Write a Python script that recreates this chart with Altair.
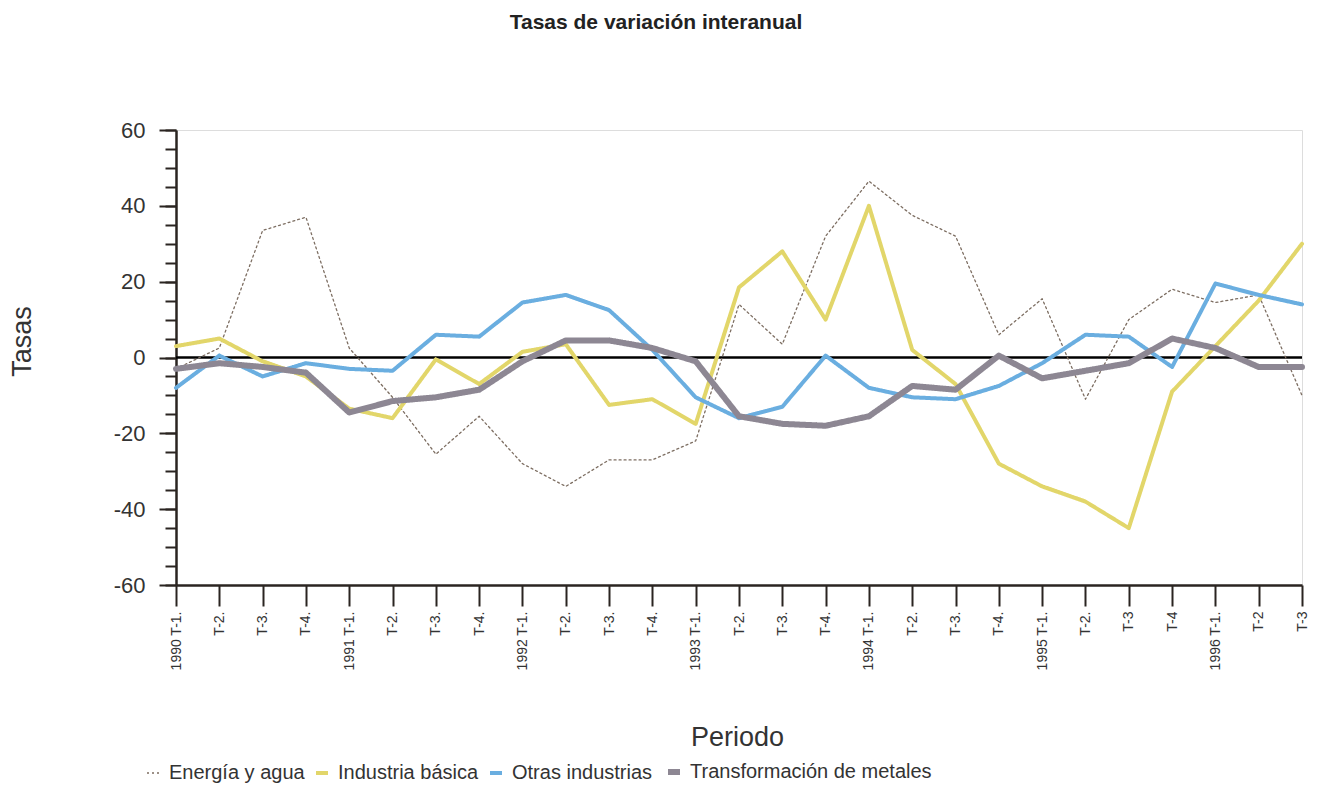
import altair as alt
import pandas as pd

# Period labels (27 quarters, 1990 T-1 .. 1996 T-3)
labels = ["1990 T-1.", "T-2.", "T-3.", "T-4.",
          "1991 T-1.", "T-2.", "T-3.", "T-4.",
          "1992 T-1.", "T-2.", "T-3.", "T-4.",
          "1993 T-1.", "T-2.", "T-3.", "T-4.",
          "1994 T-1.", "T-2.", "T-3.", "T-4.",
          "1995 T-1.", "T-2.", "T-3", "T-4",
          "1996 T-1.", "T-2", "T-3"]

series_names = ["Energía y agua", "Industria básica", "Otras industrias",
                "Transformación de metales"]

energia = [-3, 2.5, 33.5, 37, 2.5, -10.5, -25.5, -15.5, -28, -34, -27, -27, -22,
           14, 3.5, 32, 46.5, 37.5, 32, 6, 15.5, -11, 10, 18, 14.5, 16.5, -10]
industria = [3, 5, -1, -5, -13.5, -16, -0.5, -7, 1.5, 3.5, -12.5, -11, -17.5,
             18.5, 28, 10, 40, 2, -7, -28, -34, -38, -45, -9, 3, 15, 30]
otras = [-8, 0.5, -5, -1.5, -3, -3.5, 6, 5.5, 14.5, 16.5, 12.5, 2, -10.5,
         -16, -13, 0.5, -8, -10.5, -11, -7.5, -1.5, 6, 5.5, -2.5, 19.5, 16.5, 14]
transformacion = [-3, -1.5, -2.5, -4, -14.5, -11.5, -10.5, -8.5, -1, 4.5, 4.5, 2.5,
                  -1, -15.5, -17.5, -18, -15.5, -7.5, -8.5, 0.5, -5.5, -3.5, -1.5,
                  5, 2.5, -2.5, -2.5]

zero_value = [0]

colors = ["#7d6e62", "#e2d66a", "#6aaee0", "#8d8793"]
widths = [1.3, 4, 4, 6]
dashes = [[2, 3], [1, 0], [1, 0], [1, 0]]

rows = []
for name, vals in zip(series_names, [energia, industria, otras, transformacion]):
    for i, v in enumerate(vals):
        rows.append({"idx": i, "serie": name, "tasa": v})
df = pd.DataFrame(rows)
zero_df = pd.DataFrame({"tasa": zero_value})

label_expr = "[" + ",".join("'" + l + "'" for l in labels) + "][datum.value]"

FONT = "Liberation Sans"
AXC = "#2a2421"

legend = alt.Legend(
    orient="none", legendX=-33, legendY=632, direction="horizontal",
    title=None, symbolType="stroke", symbolSize=144, symbolStrokeWidth=3,
    labelFontSize=20, labelFont=FONT, labelColor="#333333", labelLimit=0,
    columnPadding=3, labelOffset=6, columns=4,
)

x = alt.X(
    "idx:Q",
    scale=alt.Scale(domain=[0, len(labels) - 1], nice=False, zero=False),
    axis=alt.Axis(
        values=list(range(len(labels))), labelExpr=label_expr, labelAngle=270,
        labelAlign="right", labelBaseline="middle", labelFontSize=14,
        labelFont=FONT, labelColor="#333333", labelPadding=5,
        tickSize=21, tickWidth=2, tickColor=AXC,
        domainColor=AXC, domainWidth=2.5, grid=False, labelOverlap=False,
        title="Periodo", titleFontSize=27, titleFont=FONT,
        titleFontWeight="normal", titleColor="#333333",
        titleX=561, titleY=152, titleAlign="center", titleBaseline="middle",
    ),
)

yscale = alt.Scale(domain=[-60, 60], nice=False)

# major ticks + labels
y = alt.Y(
    "tasa:Q",
    scale=yscale,
    axis=alt.Axis(
        orient="left",
        values=list(range(-60, 61, 20)),
        labelExpr="'' + datum.value",
        labelFontSize=22, labelFont=FONT, labelColor="#333333", labelPadding=14,
        tickSize=17, tickWidth=2, tickColor=AXC, domainColor=AXC, domainWidth=2.5,
        grid=False, labelOverlap=False,
        title="Tasas", titleFontSize=27, titleFont=FONT,
        titleFontWeight="normal", titleColor="#333333",
        titleAngle=270, titleX=-154, titleY=211,
        titleAlign="center", titleBaseline="middle",
    ),
)

# minor ticks every 5
y_minor = alt.Y(
    "tasa:Q",
    scale=yscale,
    axis=alt.Axis(
        orient="left", values=list(range(-60, 61, 5)), labels=False,
        tickSize=11, tickWidth=2, tickColor=AXC, domain=False, grid=False,
        title=None,
    ),
)

zero = alt.Chart(zero_df).mark_rule(color="black", strokeWidth=2.5).encode(
    y=y_minor
)

lines = alt.Chart(df).mark_line(strokeJoin="round", strokeCap="round").encode(
    x=x,
    y=y,
    color=alt.Color("serie:N", scale=alt.Scale(domain=series_names, range=colors),
                    sort=series_names, legend=legend),
    strokeDash=alt.StrokeDash("serie:N", scale=alt.Scale(domain=series_names, range=dashes),
                              sort=series_names, legend=legend),
    strokeWidth=alt.StrokeWidth("serie:N",
                                scale=alt.Scale(type="ordinal", domain=series_names, range=widths),
                                legend=None),
    detail="serie:N",
)

chart = alt.layer(zero, lines).resolve_axis(y="independent").properties(
    width=1126,
    height=455,
    autosize=alt.AutoSizeParams(type="none"),
    padding={"left": 168, "top": 122, "right": 7, "bottom": 200},
    title=alt.Title(
        "Tasas de variación interanual", fontSize=21, fontWeight="bold",
        font=FONT, color="#222222", anchor="middle", dx=-83, offset=86,
    ),
).configure_view(stroke="transparent", strokeWidth=0).configure(background="white")

chart.save("out.html", embed_options={"renderer": "svg", "actions": False})
